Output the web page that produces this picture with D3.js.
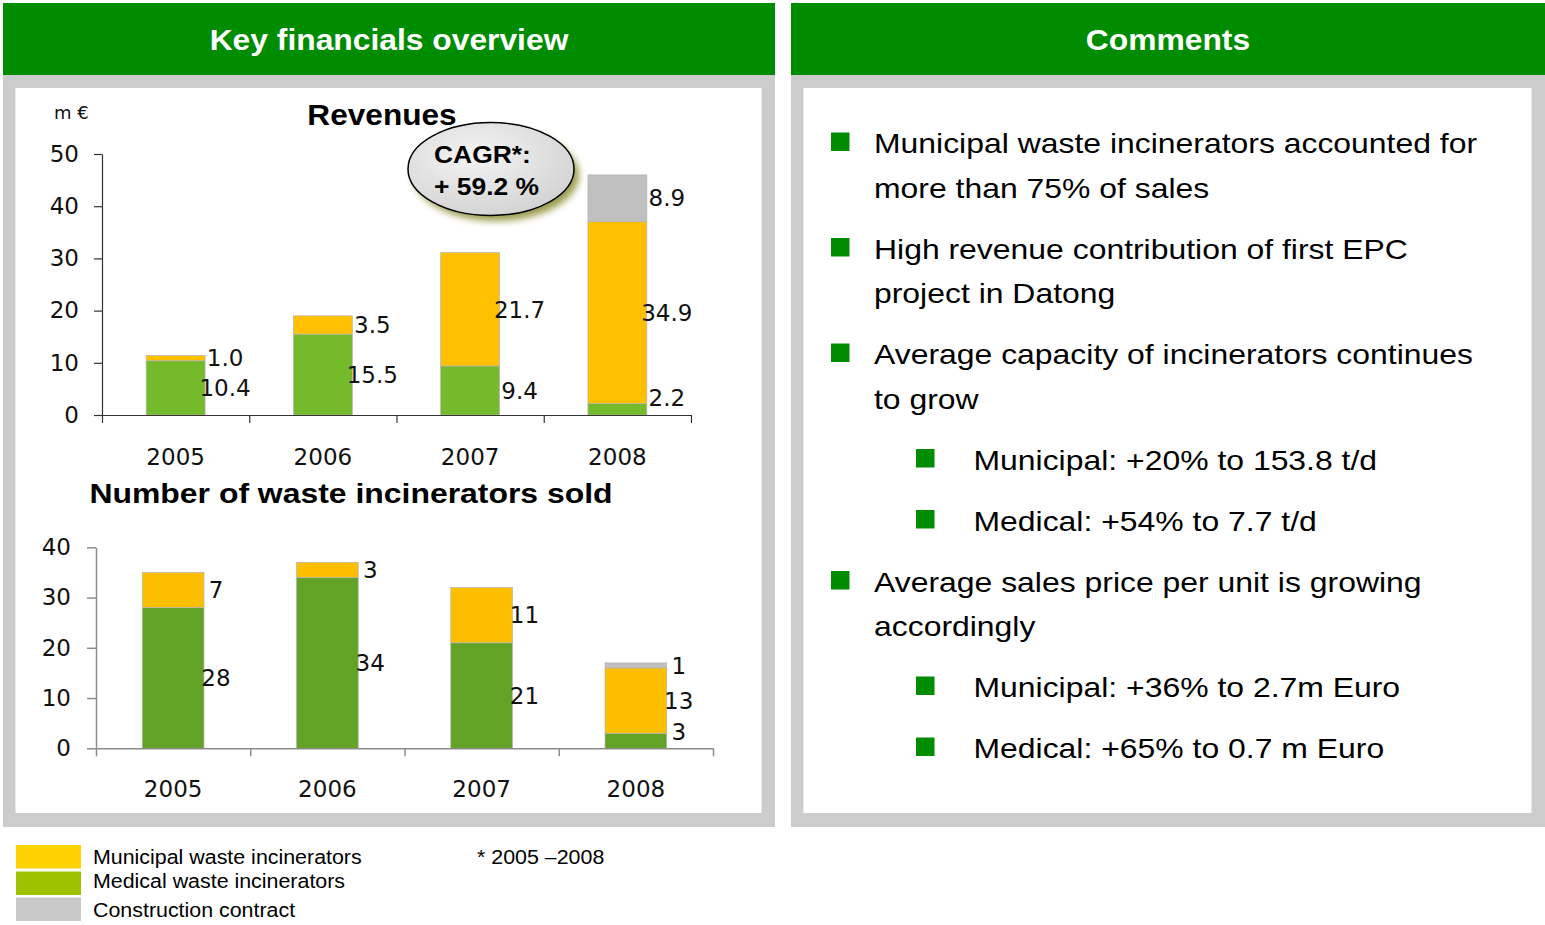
<!DOCTYPE html>
<html lang="en">
<head>
  <meta charset="UTF-8">
  <title>Key financials overview</title>
  <script src="https://d3js.org/d3.v7.min.js"></script>
  <style>
    body {
      margin: 0;
      background: white;
    }

    svg text {
      font-family: "Liberation Sans", Arial, sans-serif;
      fill: #000;
    }

    svg text.num {
      font-family: "DejaVu Sans", Verdana, sans-serif;
    }
  </style>
</head>

<body>
  <svg class="page" width="1545" height="925"></svg>
  <script>
    // ---- data ----
    const years = ['2005', '2006', '2007', '2008'];

    const revMedical = [10.4, 15.5, 9.4, 2.2];
    const revMunicipal = [1.0, 3.5, 21.7, 34.9];
    const revConstruction = [0, 0, 0, 8.9];
    const revTicks = [0, 10, 20, 30, 40, 50];

    const unitMedical = [28, 34, 21, 3];
    const unitMunicipal = [7, 3, 11, 13];
    const unitConstruction = [0, 0, 0, 1];
    const unitTicks = [0, 10, 20, 30, 40];

    const legendLabels = ['Municipal waste incinerators', 'Medical waste incinerators', 'Construction contract'];

    const commentItems = [
      { level: 0, lines: ['Municipal waste incinerators accounted for', 'more than 75% of sales'] },
      { level: 0, lines: ['High revenue contribution of first EPC', 'project in Datong'] },
      { level: 0, lines: ['Average capacity of incinerators continues', 'to grow'] },
      { level: 1, lines: ['Municipal: +20% to 153.8 t/d'] },
      { level: 1, lines: ['Medical: +54% to 7.7 t/d'] },
      { level: 0, lines: ['Average sales price per unit is growing', 'accordingly'] },
      { level: 1, lines: ['Municipal: +36% to 2.7m Euro'] },
      { level: 1, lines: ['Medical: +65% to 0.7 m Euro'] }
    ];

    const svg = d3.select('svg.page');
    const green = '#008c00';

    // stretched text helper (the slide text is a bit wider than plain Arial)
    function stext(parent, x, y, str, size, sx, opts = {}) {
      return parent.append('text')
        .attr('transform', `translate(${x},${y}) scale(${sx},1)`)
        .attr('font-size', size)
        .attr('font-weight', opts.bold ? 'bold' : null)
        .attr('text-anchor', opts.anchor || 'start')
        .style('fill', opts.fill || '#000')
        .text(str);
    }

    // ---- panels ----
    const panels = [
      { x0: 3, x1: 775, title: 'Key financials overview' },
      { x0: 791, x1: 1545, title: 'Comments' }
    ];
    panels.forEach(p => {
      svg.append('rect').attr('x', p.x0).attr('y', 3).attr('width', p.x1 - p.x0).attr('height', 72).attr('fill', green);
      svg.append('rect').attr('x', p.x0).attr('y', 75).attr('width', p.x1 - p.x0).attr('height', 752).attr('fill', '#cccccc');
      svg.append('rect').attr('x', p.x0 + 12.5).attr('y', 88).attr('width', p.x1 - p.x0 - 26).attr('height', 725).attr('fill', '#fff');
      stext(svg, (p.x0 + p.x1) / 2, 50, p.title, 30, 1.06, { bold: true, anchor: 'middle', fill: '#fff' });
    });

    // ---- stacked bar chart ----
    function stackedChart(cfg) {
      const g = svg.append('g');
      const x = d3.scaleBand().domain(years).range(cfg.xRange).padding(0);
      const edges = d3.scaleLinear().domain([0, years.length]).range(cfg.xRange);
      const y = d3.scaleLinear().domain([0, d3.max(cfg.ticks)]).range(cfg.yRange);
      const barW = x.bandwidth() * 0.4;

      const rows = years.map((yr, i) => ({
        year: yr,
        medical: cfg.medical[i],
        municipal: cfg.municipal[i],
        construction: cfg.construction[i]
      }));
      const keys = ['medical', 'municipal', 'construction'];
      const series = d3.stack().keys(keys)(rows);

      series.forEach(s => {
        const segs = s.filter(d => d[1] - d[0] > 0);
        g.selectAll(null).data(segs).join('rect')
          .attr('x', d => x(d.data.year) + (x.bandwidth() - barW) / 2)
          .attr('y', d => y(d[1]))
          .attr('width', barW)
          .attr('height', d => y(d[0]) - y(d[1]))
          .attr('fill', cfg.colors[s.key])
          .attr('stroke', '#b4b4b4')
          .attr('stroke-width', 0.7);
      });

      // y axis
      const ya = g.append('g')
        .attr('transform', `translate(${cfg.xRange[0]},0)`)
        .call(d3.axisLeft(y).tickValues(cfg.ticks).tickSize(cfg.tickLen).tickSizeOuter(0).tickPadding(cfg.tickPad));
      // category boundaries + baseline
      const ea = g.append('g')
        .attr('transform', `translate(0,${cfg.yRange[0]})`)
        .call(d3.axisBottom(edges).tickValues(d3.range(years.length + 1)).tickSize(8).tickSizeOuter(0).tickFormat(''));
      // year labels
      const xa = g.append('g')
        .attr('transform', `translate(0,${cfg.yRange[0]})`)
        .call(d3.axisBottom(x).tickSize(0));
      xa.select('.domain').remove();
      xa.selectAll('text').attr('y', cfg.yearDy).attr('dy', 0);

      [ya, ea, xa].forEach(a => {
        a.attr('font-family', null).attr('font-size', 23);
        a.selectAll('line, path').attr('stroke', cfg.axisColor).attr('stroke-width', cfg.axisWidth);
        a.selectAll('text').attr('class', 'num').style('fill', '#111');
      });

      // data labels
      const base = y(0);
      series.forEach(s => {
        s.filter(d => d[1] - d[0] > 0).forEach(d => {
          const cy = Math.min((y(d[0]) + y(d[1])) / 2, base - 17);
          g.append('text')
            .attr('class', 'num')
            .attr('x', x(d.data.year) + (x.bandwidth() + barW) / 2 + cfg.labelDx)
            .attr('y', cy)
            .attr('dy', '0.36em')
            .attr('text-anchor', 'middle')
            .attr('font-size', 23)
            .style('fill', '#111')
            .text(cfg.format(d[1] - d[0]));
        });
      });
    }

    // Revenues
    stackedChart({
      medical: revMedical, municipal: revMunicipal, construction: revConstruction,
      ticks: revTicks,
      xRange: [102, 691], yRange: [415, 154],
      tickLen: 8, tickPad: 15, yearDy: 50, labelDx: 20,
      axisColor: '#333', axisWidth: 1.2,
      colors: { medical: '#74ba2b', municipal: '#ffc000', construction: '#c0c0c0' },
      format: d3.format('.1f')
    });
    svg.append('text').attr('class', 'num').attr('x', 54).attr('y', 119).attr('font-size', 18).style('fill', '#111').text('m €');
    stext(svg, 382, 125, 'Revenues', 29, 1.09, { bold: true, anchor: 'middle' });

    // CAGR bubble
    const defs = svg.append('defs');
    defs.append('filter').attr('id', 'blur').attr('x', '-20%').attr('y', '-20%').attr('width', '140%').attr('height', '140%')
      .append('feGaussianBlur').attr('stdDeviation', 3.5);
    const grad = defs.append('radialGradient').attr('id', 'bubble').attr('cx', '40%').attr('cy', '35%').attr('r', '70%');
    grad.append('stop').attr('offset', '0%').attr('stop-color', '#f4f4f4');
    grad.append('stop').attr('offset', '100%').attr('stop-color', '#d2d2d2');
    svg.append('ellipse').attr('cx', 496).attr('cy', 175).attr('rx', 83).attr('ry', 46)
      .attr('fill', '#8a8a2e').attr('opacity', 0.85).attr('filter', 'url(#blur)');
    svg.append('ellipse').attr('cx', 491).attr('cy', 169).attr('rx', 83).attr('ry', 46.5)
      .attr('fill', 'url(#bubble)').attr('stroke', '#000').attr('stroke-width', 1.5);
    stext(svg, 434, 163, 'CAGR*:', 24.7, 1.07, { bold: true });
    stext(svg, 434, 195, '+ 59.2 %', 24.7, 1.07, { bold: true });

    // Units sold
    stext(svg, 351, 503, 'Number of waste incinerators sold', 28, 1.14, { bold: true, anchor: 'middle' });
    stackedChart({
      medical: unitMedical, municipal: unitMunicipal, construction: unitConstruction,
      ticks: unitTicks,
      xRange: [96, 713], yRange: [748.3, 547.3],
      tickLen: 9, tickPad: 16, yearDy: 49, labelDx: 12,
      axisColor: '#8c8c8c', axisWidth: 1.5,
      colors: { medical: '#62a325', municipal: '#fbbf00', construction: '#c0c0c0' },
      format: d3.format('d')
    });

    // ---- legend ----
    const legendColors = ['#ffd200', '#9dc300', '#c8c8c8'];
    const legendY = [845, 871.5, 897.5];
    const legendBase = [864, 888, 916.5];
    legendLabels.forEach((t, i) => {
      svg.append('rect').attr('x', 16).attr('y', legendY[i]).attr('width', 65).attr('height', 23.5).attr('fill', legendColors[i]);
      stext(svg, 93, legendBase[i], t, 20, 1.07);
    });
    stext(svg, 477, 864, '* 2005 \u20132008', 20, 1.07);

    // ---- comments ----
    const cg = svg.append('g');
    let by = 153;
    commentItems.forEach((item, i) => {
      if (i > 0) by += 61;
      const bx = item.level === 0 ? 831 : 916;
      const tx = item.level === 0 ? 874 : 973.5;
      cg.append('rect').attr('x', bx).attr('y', by - 20.5).attr('width', 18.5).attr('height', 18.5).attr('fill', green);
      item.lines.forEach((ln, j) => {
        if (j > 0) by += 44.5;
        stext(cg, tx, by, ln, 28.5, 1.12);
      });
    });
  </script>
</body>

</html>
